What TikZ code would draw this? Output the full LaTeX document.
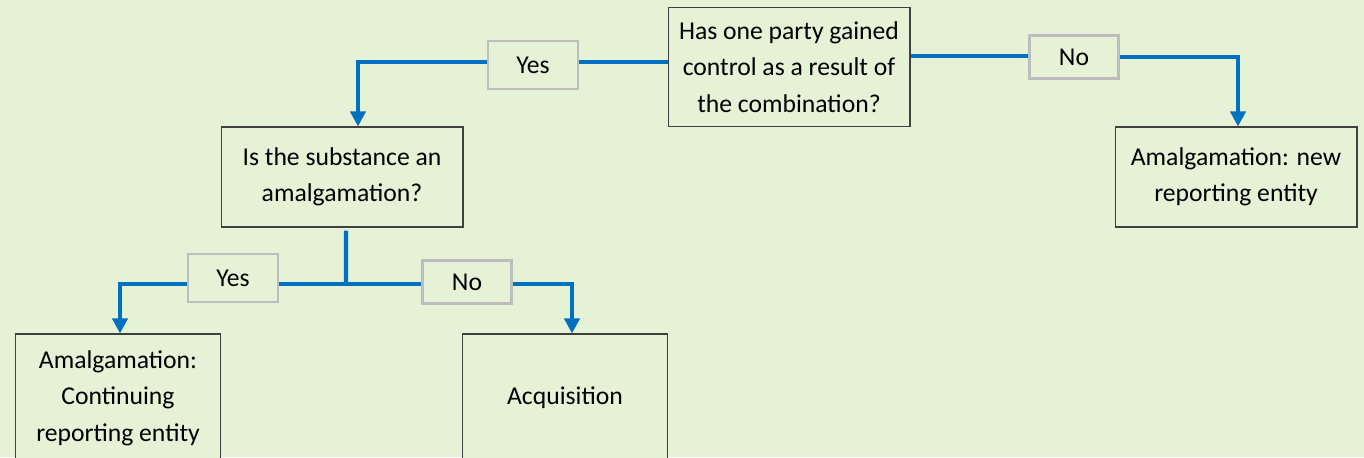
\documentclass[tikz,border=0pt]{standalone}
\usepackage{fontspec}
\setmainfont{Carlito}
\usetikzlibrary{arrows.meta}

\begin{document}
\begin{tikzpicture}[x=0.02cm, y=-0.02cm]
    % Define colours
    \definecolor{bgColour}{HTML}{E6F2D6}
    \definecolor{lineColour}{HTML}{0070C0}
    \definecolor{boxColour}{HTML}{404040}
    \definecolor{labelColour}{HTML}{BDBDBD}

    % Define styles
    \tikzset{
        box/.style={draw=boxColour, line width=0.6pt, fill=bgColour, align=center,
            font=\fontsize{14.6}{20.8}\selectfont, inner sep=0pt},
        label/.style={draw=labelColour, line width=1.2pt, fill=bgColour,
            font=\fontsize{14.6}{20.8}\selectfont, inner sep=0pt},
        line/.style={draw=lineColour, line width=2.3pt},
        flow/.style={line, -{Triangle[length=0.3cm, width=0.3cm]}}
    }

    % Background and frame
    \fill[bgColour] (0,0) rectangle (1364,457);
    \useasboundingbox (0,0) rectangle (1364,457);
    \clip (0,0) rectangle (1364,457);

    % Question boxes
    \node[box, minimum width=4.84cm, minimum height=2.38cm] (q1) at (789,67)
        {Has one party gained\\control as a result of\\the combination?};
    \node[box, minimum width=4.84cm, minimum height=2cm] (q2) at (342,177)
        {Is the substance an\\amalgamation?};

    % Outcome boxes
    \node[box, minimum width=4.84cm, minimum height=2cm] (r1) at (1236,177)
        {Amalgamation: new\\reporting entity};
    \node[box, minimum width=4.1cm, minimum height=2.56cm] (a1) at (118,398)
        {Amalgamation:\\Continuing\\reporting entity};
    \node[box, minimum width=4.1cm, minimum height=2.56cm] (a2) at (565,398)
        {Acquisition};

    % Answer labels
    \node[label, minimum width=1.8cm, minimum height=0.96cm] (y1) at (533,65) {Yes};
    \node[label, minimum width=1.78cm, minimum height=0.86cm] (n1) at (1074,57) {No};
    \node[label, minimum width=1.8cm, minimum height=0.96cm] (y2) at (233,278) {Yes};
    \node[label, minimum width=1.78cm, minimum height=0.86cm] (n2) at (467,282) {No};

    % Junction below second question
    \coordinate (j) at (346,284);

    % Connectors from first question
    \draw[line] (q1.west |- 0,62) -- (y1.east |- 0,62);
    \draw[flow] (y1.west |- 0,62) -| ([xshift=0.32cm]q2.north);
    \draw[line] (q1.east |- 0,56) -- (n1.west |- 0,56);
    \draw[flow] (n1.east |- 0,57) -| ([xshift=0.04cm]r1.north);

    % Connectors from second question
    \draw[line] ([xshift=0.08cm, yshift=-0.06cm]q2.south) -- (j);
    \draw[line] (y2.east |- j) -- (n2.west |- j);
    \draw[flow] (y2.west |- j) -| ([xshift=0.04cm]a1.north);
    \draw[flow] (n2.east |- j) -| ([xshift=0.14cm]a2.north);

\end{tikzpicture}
\end{document}
